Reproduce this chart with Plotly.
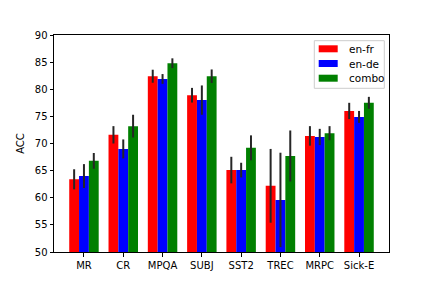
import plotly.graph_objects as go

categories = ["MR", "CR", "MPQA", "SUBJ", "SST2", "TREC", "MRPC", "Sick-E"]
en_fr = [63.4, 71.6, 82.4, 78.9, 65.1, 62.2, 71.4, 76.0]
en_fr_err = [1.85, 1.6, 1.2, 1.35, 2.45, 6.8, 1.8, 1.5]
en_de = [64.0, 69.0, 81.9, 78.0, 65.1, 59.6, 71.2, 74.9]
en_de_err = [2.2, 1.75, 0.9, 2.7, 1.35, 8.7, 1.5, 1.1]
combo = [66.8, 73.2, 84.8, 82.4, 69.2, 67.7, 71.9, 77.5]
combo_err = [1.45, 2.1, 0.9, 1.25, 2.3, 4.7, 1.3, 1.1]

series = [("en-fr", en_fr, en_fr_err, "#ff0000"),
          ("en-de", en_de, en_de_err, "#0000ff"),
          ("combo", combo, combo_err, "#008000")]

W, H = 432, 288
L, R, T, B = 54, 43, 35, 36
PW, PH = W - L - R, H - T - B


def px(x):
    return (x - L) / PW


def py(y):
    return (H - B - y) / PH


fig = go.Figure()
for name, vals, errs, col in series:
    fig.add_trace(go.Bar(
        x=categories, y=vals, name=name, marker=dict(color=col, line=dict(width=0)),
        error_y=dict(type="data", array=errs, visible=True, color="#262626", thickness=2, width=0),
        showlegend=False,
    ))

shapes = [dict(type="rect", xref="paper", yref="paper",
               x0=px(314.3), x1=px(384.3), y0=py(88.3), y1=py(40.7),
               line=dict(color="#cccccc", width=1), fillcolor="rgba(255,255,255,0.8)", layer="above")]
annotations = []
row_tops = [45.3, 60.0, 74.7]
for (name, _, _, col), top in zip(series, row_tops):
    shapes.append(dict(type="rect", xref="paper", yref="paper",
                       x0=px(318.7), x1=px(337.7), y0=py(top + 7), y1=py(top),
                       line=dict(width=0), fillcolor=col, layer="above"))
    annotations.append(dict(text=name, xref="paper", yref="paper", x=px(346.5), y=py(top + 3.5),
                            xanchor="left", yanchor="middle", showarrow=False,
                            font=dict(size=10.5, color="black")))

fig.update_layout(
    width=W, height=H,
    margin=dict(l=L, r=R, t=T, b=B),
    paper_bgcolor="white", plot_bgcolor="white",
    barmode="group", bargap=0.25, bargroupgap=0,
    font=dict(family="DejaVu Sans", size=10, color="black"),
    showlegend=False,
    shapes=shapes, annotations=annotations,
)
fig.update_xaxes(range=[-0.7625, 7.7625], showline=True, mirror=True, linecolor="black",
                 linewidth=1, ticks="outside", ticklen=3.5, tickcolor="black", showgrid=False)
fig.update_yaxes(range=[50, 90], dtick=5, showline=True, mirror=True, linecolor="black",
                 linewidth=1, ticks="outside", ticklen=3.5, tickcolor="black", showgrid=False,
                 zeroline=False, title=dict(text="ACC", standoff=8, font=dict(size=10)))

fig.write_html("out.html", config={"displayModeBar": False},
               post_script="document.body.style.margin='0';")
